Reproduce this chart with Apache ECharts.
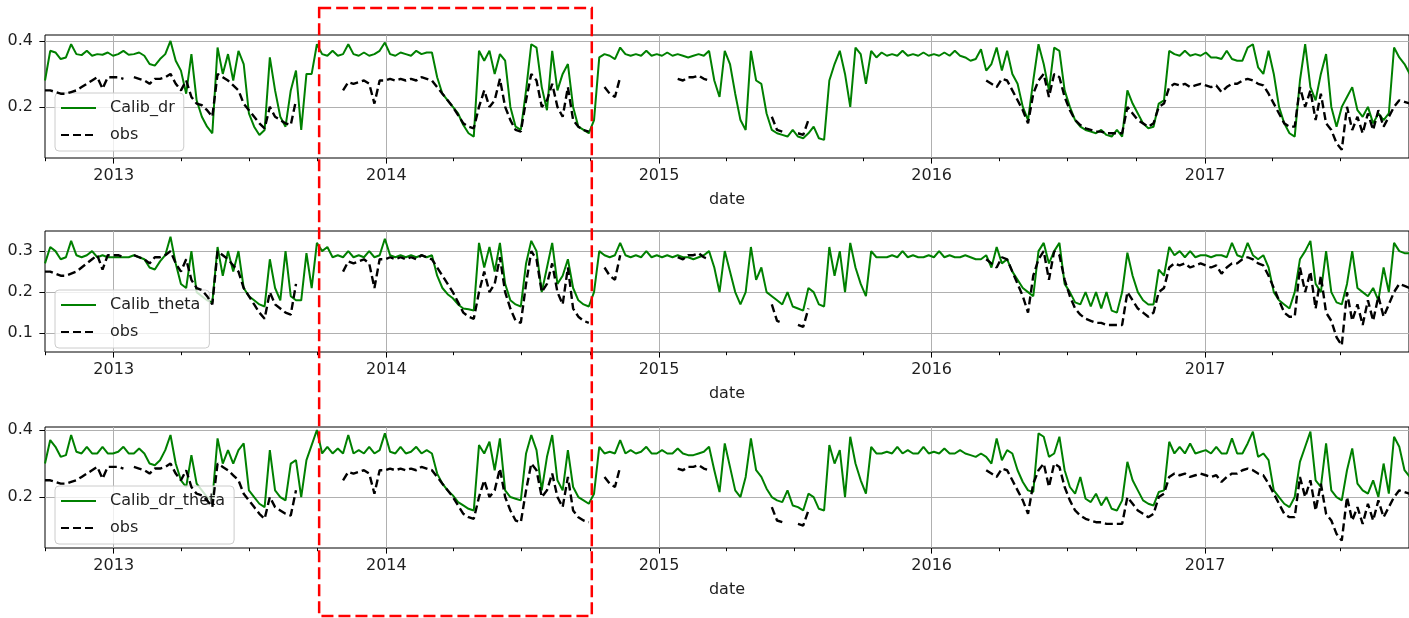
<!DOCTYPE html>
<html><head><meta charset="utf-8">
<script src="https://cdn.jsdelivr.net/npm/echarts@6/dist/echarts.min.js"></script>
<style>html,body{margin:0;padding:0;background:#fff}#c{width:1409px;height:618px}</style>
</head><body><div id="c"></div>
<script>
// ---------- data ----------
const startDate = '2012-10-01';   // first weekly sample
const stepDays = 7;
const xMin = '2012-10-01';
const xMax = '2017-10-01';
const yearTicks = ['2013-01-01','2014-01-01','2015-01-01','2016-01-01','2017-01-01'];
const quarterTicks = ['2012-10-01','2013-04-01','2013-07-01','2013-10-01','2014-04-01','2014-07-01','2014-10-01',
  '2015-04-01','2015-07-01','2015-10-01','2016-04-01','2016-07-01','2016-10-01','2017-04-01','2017-07-01','2017-10-01'];
const boxDates = ['2013-10-03','2014-10-03'];
const panelNames = ['Calib_dr','Calib_theta','Calib_dr_theta'];
const yTicks = [[0.2,0.4],[0.1,0.2,0.3],[0.2,0.4]];
const yRanges = [[0.045,0.418],[0.054,0.349],[0.048,0.409]];

const calibDr = [
0.28,0.37,0.365,0.345,0.35,0.39,0.36,0.357,0.37,0.355,
0.36,0.358,0.365,0.355,0.36,0.37,0.358,0.36,0.365,0.355,
0.33,0.325,0.345,0.36,0.40,0.34,0.31,0.24,0.36,0.22,
0.17,0.14,0.12,0.38,0.30,0.36,0.28,0.37,0.33,0.18,
0.14,0.115,0.13,0.35,0.25,0.17,0.14,0.25,0.31,0.13,
0.30,0.30,0.39,0.36,0.355,0.37,0.355,0.36,0.39,0.36,
0.355,0.365,0.355,0.36,0.37,0.395,0.36,0.355,0.365,0.36,
0.355,0.37,0.36,0.365,0.365,0.29,0.24,0.22,0.2,0.18,
0.145,0.12,0.11,0.37,0.34,0.37,0.3,0.36,0.34,0.2,
0.14,0.13,0.25,0.39,0.38,0.26,0.19,0.37,0.25,0.3,
0.33,0.2,0.14,0.13,0.12,0.16,0.35,0.36,0.355,0.345,
0.38,0.36,0.355,0.36,0.355,0.37,0.355,0.36,0.355,0.365,
0.355,0.36,0.355,0.35,0.355,0.36,0.355,0.37,0.28,0.23,
0.37,0.33,0.24,0.16,0.13,0.37,0.28,0.27,0.18,0.13,
0.12,0.115,0.11,0.13,0.11,0.105,0.12,0.14,0.105,0.1,
0.28,0.33,0.37,0.3,0.2,0.38,0.36,0.27,0.37,0.35,
0.365,0.355,0.36,0.355,0.37,0.355,0.36,0.355,0.365,0.355,
0.36,0.355,0.365,0.355,0.37,0.355,0.35,0.34,0.345,0.375,
0.31,0.33,0.38,0.31,0.37,0.3,0.27,0.2,0.16,0.28,
0.39,0.33,0.25,0.38,0.37,0.25,0.2,0.16,0.14,0.13,
0.125,0.12,0.13,0.115,0.11,0.13,0.11,0.25,0.21,0.18,
0.15,0.135,0.14,0.21,0.22,0.37,0.36,0.355,0.37,0.355,
0.36,0.355,0.365,0.35,0.35,0.345,0.37,0.345,0.34,0.34,
0.38,0.39,0.32,0.3,0.37,0.3,0.2,0.15,0.12,0.11,
0.28,0.39,0.26,0.22,0.3,0.36,0.2,0.14,0.2,0.23,
0.26,0.19,0.17,0.2,0.15,0.18,0.16,0.18,0.38,0.35,
0.33,0.3
];

const calibTheta = [
0.27,0.31,0.3,0.28,0.285,0.325,0.29,0.285,0.29,0.3,
0.285,0.29,0.285,0.285,0.285,0.285,0.285,0.29,0.285,0.28,
0.26,0.255,0.275,0.29,0.335,0.27,0.22,0.21,0.3,0.2,
0.19,0.18,0.175,0.31,0.24,0.3,0.25,0.3,0.21,0.19,
0.18,0.17,0.165,0.28,0.21,0.18,0.3,0.19,0.18,0.18,
0.295,0.21,0.32,0.3,0.31,0.285,0.29,0.285,0.3,0.285,
0.29,0.285,0.3,0.285,0.29,0.33,0.29,0.285,0.29,0.285,
0.29,0.285,0.29,0.285,0.29,0.24,0.21,0.195,0.185,0.17,
0.16,0.158,0.155,0.32,0.26,0.31,0.25,0.32,0.22,0.18,
0.17,0.165,0.27,0.325,0.3,0.2,0.26,0.32,0.22,0.24,
0.28,0.21,0.18,0.17,0.165,0.2,0.3,0.29,0.285,0.29,
0.32,0.29,0.285,0.29,0.285,0.3,0.285,0.29,0.285,0.29,
0.285,0.29,0.285,0.285,0.28,0.285,0.29,0.3,0.26,0.2,
0.3,0.25,0.2,0.17,0.2,0.31,0.23,0.26,0.2,0.19,
0.18,0.17,0.2,0.165,0.16,0.155,0.21,0.2,0.17,0.165,
0.31,0.24,0.3,0.2,0.32,0.26,0.22,0.19,0.3,0.285,
0.285,0.285,0.29,0.285,0.3,0.285,0.29,0.285,0.285,0.29,
0.285,0.3,0.285,0.29,0.285,0.285,0.29,0.285,0.28,0.28,
0.29,0.26,0.31,0.27,0.28,0.25,0.23,0.21,0.2,0.19,
0.3,0.32,0.27,0.3,0.32,0.22,0.2,0.175,0.17,0.2,
0.165,0.2,0.16,0.2,0.155,0.15,0.2,0.296,0.24,0.2,
0.18,0.17,0.17,0.255,0.24,0.31,0.29,0.3,0.285,0.3,
0.285,0.29,0.29,0.285,0.29,0.29,0.285,0.32,0.29,0.285,
0.32,0.29,0.28,0.29,0.26,0.2,0.18,0.17,0.16,0.2,
0.28,0.3,0.325,0.22,0.2,0.3,0.2,0.175,0.17,0.22,
0.3,0.21,0.2,0.19,0.21,0.18,0.26,0.2,0.32,0.3,
0.295,0.295
];

const calibDrTheta = [
0.3,0.37,0.35,0.32,0.325,0.385,0.335,0.33,0.35,0.33,
0.33,0.35,0.33,0.33,0.335,0.35,0.33,0.33,0.345,0.33,
0.3,0.295,0.31,0.34,0.385,0.3,0.25,0.23,0.325,0.24,
0.22,0.2,0.19,0.375,0.3,0.34,0.3,0.34,0.36,0.22,
0.2,0.18,0.17,0.34,0.22,0.2,0.19,0.3,0.31,0.2,
0.31,0.355,0.4,0.33,0.35,0.33,0.345,0.33,0.385,0.33,
0.34,0.33,0.35,0.33,0.34,0.39,0.335,0.33,0.35,0.33,
0.335,0.35,0.33,0.34,0.33,0.27,0.24,0.22,0.205,0.185,
0.175,0.165,0.16,0.355,0.33,0.365,0.28,0.375,0.22,0.2,
0.195,0.19,0.33,0.385,0.34,0.22,0.32,0.385,0.25,0.22,
0.34,0.23,0.2,0.19,0.18,0.21,0.35,0.33,0.335,0.33,
0.37,0.33,0.34,0.33,0.335,0.35,0.33,0.33,0.34,0.33,
0.33,0.345,0.33,0.325,0.325,0.33,0.335,0.35,0.28,0.215,
0.36,0.29,0.22,0.2,0.26,0.375,0.28,0.26,0.225,0.2,
0.19,0.185,0.22,0.175,0.17,0.16,0.21,0.2,0.165,0.16,
0.355,0.3,0.34,0.2,0.38,0.3,0.25,0.21,0.35,0.33,
0.33,0.335,0.33,0.35,0.33,0.34,0.33,0.33,0.35,0.33,
0.335,0.33,0.345,0.33,0.33,0.34,0.33,0.325,0.32,0.33,
0.32,0.3,0.375,0.31,0.34,0.33,0.28,0.245,0.22,0.215,
0.39,0.38,0.32,0.33,0.38,0.28,0.23,0.21,0.26,0.195,
0.185,0.21,0.175,0.2,0.165,0.16,0.19,0.305,0.25,0.22,
0.19,0.18,0.175,0.215,0.22,0.365,0.33,0.35,0.33,0.36,
0.33,0.335,0.34,0.33,0.35,0.33,0.33,0.375,0.33,0.33,
0.36,0.395,0.32,0.33,0.31,0.22,0.2,0.18,0.17,0.2,
0.305,0.35,0.395,0.25,0.23,0.36,0.22,0.2,0.19,0.28,
0.345,0.24,0.22,0.21,0.25,0.2,0.3,0.21,0.38,0.35,
0.28,0.26
];

const obs = [
0.25,0.25,0.245,0.24,0.24,0.245,0.25,0.26,0.27,0.28,
0.29,0.255,0.29,0.29,0.29,0.285,null,0.29,0.285,0.28,
0.27,0.285,0.285,0.29,0.30,0.27,0.25,0.28,0.23,0.21,
0.205,0.19,0.17,0.3,0.29,0.28,0.265,0.25,0.21,0.19,
0.17,0.15,0.135,0.2,0.17,0.16,0.15,0.145,0.22,null,
null,null,null,null,null,null,null,0.25,0.275,0.27,
0.275,0.28,0.27,0.21,0.28,0.28,0.285,0.28,0.285,0.28,
0.285,0.28,0.29,0.285,0.28,0.26,0.24,0.22,0.2,0.175,
0.15,0.14,0.135,0.2,0.25,0.2,0.22,0.285,0.2,0.16,
0.13,0.125,0.22,0.3,0.28,0.2,0.22,0.27,0.2,0.17,
0.26,0.16,0.14,0.13,0.125,null,null,0.26,0.24,0.23,
0.29,null,null,null,null,null,null,null,null,null,
null,0.285,0.28,0.29,0.29,0.295,0.285,0.28,null,null,
null,null,null,null,null,null,null,null,null,0.17,
0.13,0.125,null,null,0.12,0.115,0.16,null,null,null,
null,null,null,null,null,null,null,null,null,null,
null,null,null,null,null,null,null,null,null,null,
null,null,null,null,null,null,null,null,null,null,
0.28,0.27,0.26,0.285,0.28,0.25,0.22,0.19,0.15,0.24,
0.28,0.3,0.23,0.3,0.29,0.23,0.19,0.16,0.145,0.135,
0.13,0.125,0.125,0.12,0.12,0.12,0.12,0.2,0.18,0.16,
0.15,0.14,0.15,0.2,0.21,0.26,0.27,0.265,0.27,0.26,
0.265,0.27,0.265,0.26,0.265,0.245,0.26,0.27,0.27,0.28,
0.285,0.28,0.27,0.265,0.24,0.21,0.18,0.15,0.14,0.14,
0.26,0.2,0.25,0.16,0.24,0.15,0.13,0.09,0.07,0.2,
0.13,0.17,0.12,0.18,0.13,0.19,0.14,0.17,0.2,0.22,
0.215,0.21
];

// ---------- chart ----------
const FONT = 'DejaVu Sans';
const TXT = '#1f1f1f';
const ts = s => { const p = s.split('-').map(Number); return new Date(p[0], p[1]-1, p[2]).getTime(); };
const sp = startDate.split('-').map(Number);
const dates = obs.map((_, i) => new Date(sp[0], sp[1]-1, sp[2] + stepDays*i).getTime());
const models = [calibDr, calibTheta, calibDrTheta];
const gridTops = [35, 231, 427];
const gridHeights = [123, 121, 121];
const legendTops = [93, 290, 486];

const grid = [], xAxis = [], yAxis = [], series = [], legend = [];
for (let g = 0; g < 3; g++) {
  grid.push({left: 45, top: gridTops[g], width: 1366, height: gridHeights[g], show: true,
    borderColor: '#000', borderWidth: 1, backgroundColor: 'transparent'});
  xAxis.push({type: 'value', gridIndex: g, min: ts(xMin), max: ts(xMax), position: 'bottom', scale: true,
    axisLine: {show: false},
    axisTick: {show: true, length: 5.6, customValues: yearTicks.map(ts), lineStyle: {color: '#000', width: 1}},
    axisLabel: {customValues: yearTicks.map(ts), formatter: v => String(new Date(v).getFullYear()),
      fontSize: 16, color: TXT, fontFamily: FONT, margin: 10},
    splitLine: {show: true, lineStyle: {color: '#b0b0b0', width: 1}},
    name: 'date', nameLocation: 'middle', nameGap: 34,
    nameTextStyle: {fontSize: 16, color: TXT, fontFamily: FONT}});
  xAxis.push({type: 'value', gridIndex: g, min: ts(xMin), max: ts(xMax), position: 'bottom', scale: true,
    axisLine: {show: false}, axisLabel: {show: false}, splitLine: {show: false},
    axisTick: {show: true, length: 3.2, customValues: quarterTicks.map(ts), lineStyle: {color: '#000', width: 1}}});
  yAxis.push({type: 'value', gridIndex: g, min: yRanges[g][0], max: yRanges[g][1],
    axisLine: {show: false},
    axisTick: {show: true, length: 5.6, customValues: yTicks[g], lineStyle: {color: '#000', width: 1}},
    axisLabel: {customValues: yTicks[g], formatter: v => v.toFixed(1), fontSize: 16, color: TXT, fontFamily: FONT, margin: 12},
    splitLine: {show: true, lineStyle: {color: '#b0b0b0', width: 1}}});
  series.push({type: 'line', name: panelNames[g], xAxisIndex: 2*g, yAxisIndex: g,
    data: dates.map((d, i) => [d, models[g][i]]), symbol: 'none', showSymbol: false,
    lineStyle: {color: '#008000', width: 2}, itemStyle: {color: '#008000'}, z: 3});
  series.push({type: 'line', name: 'obs', xAxisIndex: 2*g, yAxisIndex: g,
    data: dates.map((d, i) => [d, obs[i]]), symbol: 'none', showSymbol: false, connectNulls: false,
    lineStyle: {color: '#000', width: 2.4, type: [8, 4]}, itemStyle: {color: '#000'}, z: 4});
  legend.push({left: 55, top: legendTops[g], orient: 'vertical', data: [panelNames[g], 'obs'],
    itemWidth: 35, itemHeight: 14, itemGap: 11, padding: [7, 9, 8, 5],
    backgroundColor: 'rgba(255,255,255,0.8)', borderColor: '#cccccc', borderWidth: 1, borderRadius: 4,
    itemStyle: {opacity: 0}, selectedMode: false,
    textStyle: {fontSize: 16, color: TXT, fontFamily: FONT, padding: [0, 0, 0, 9]}});
}

const chart = echarts.init(document.getElementById('c'), null, {renderer: 'canvas'});
chart.setOption({animation: false, backgroundColor: '#fff', grid, xAxis, yAxis, series, legend});
const bx1 = chart.convertToPixel({xAxisIndex: 0}, ts(boxDates[0]));
const bx2 = chart.convertToPixel({xAxisIndex: 0}, ts(boxDates[1]));
chart.setOption({graphic: [{type: 'rect', silent: true, z: 100,
  shape: {x: bx1, y: 8, width: bx2 - bx1, height: 608},
  style: {fill: 'none', stroke: '#ff0000', lineWidth: 2.5, lineDash: [12, 5]}}]});
</script></body></html>
